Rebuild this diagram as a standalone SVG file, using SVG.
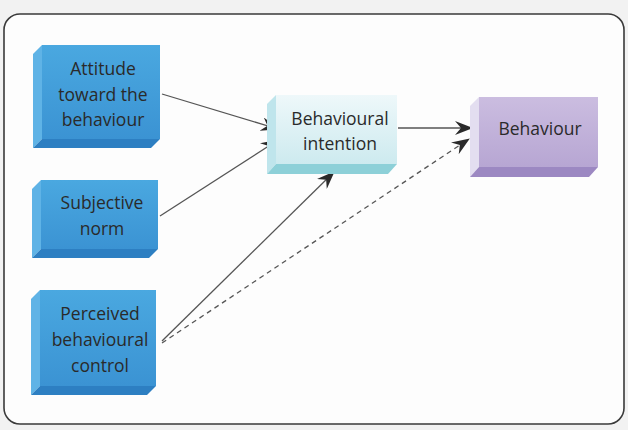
<svg xmlns="http://www.w3.org/2000/svg" width="628" height="430" viewBox="0 0 628 430">
<defs>
<style>
text{font-family:"Open Sans","Noto Sans","Liberation Sans",sans-serif;font-size:17.5px;fill:#2a2a2a;text-anchor:middle}
.conn{stroke:#555;stroke-width:1.3;fill:none}
.dash{stroke-dasharray:5 4}
</style>
<marker id="ah" viewBox="0 0 18 14" refX="17" refY="7" markerWidth="18" markerHeight="14" markerUnits="userSpaceOnUse" orient="auto">
<path d="M0,0 L18,7 L0,14 L6,7 Z" fill="#2a2a2a"/>
</marker>
<linearGradient id="gb" x1="0" y1="0" x2="0" y2="1">
<stop offset="0" stop-color="#4aa8e0"/><stop offset="1" stop-color="#3b93d3"/>
</linearGradient>
<linearGradient id="gt" x1="0" y1="0" x2="0" y2="1">
<stop offset="0" stop-color="#eef8fa"/><stop offset="1" stop-color="#cdeaef"/>
</linearGradient>
<linearGradient id="gp" x1="0" y1="0" x2="0" y2="1">
<stop offset="0" stop-color="#cbbde0"/><stop offset="1" stop-color="#b7a6d3"/>
</linearGradient>
</defs>
<rect width="628" height="430" fill="#f2f2f2"/>
<rect x="4" y="14" width="620" height="410" rx="16" fill="#fdfdfd" stroke="#3a3a3a" stroke-width="1.6"/>

<g id="connectors">
<line class="conn" x1="162" y1="94" x2="278" y2="129" marker-end="url(#ah)"/>
<line class="conn" x1="160" y1="216" x2="278" y2="140" marker-end="url(#ah)"/>
<line class="conn" x1="162" y1="341" x2="334" y2="172" marker-end="url(#ah)"/>
<line class="conn dash" x1="162" y1="343" x2="469" y2="139" marker-end="url(#ah)"/>
<line class="conn" x1="398" y1="128" x2="472" y2="128" marker-end="url(#ah)"/>
</g>

<g id="attitude">
<polygon points="33,54 42,45 42,139 33,148" fill="#5fb3e6"/>
<polygon points="33,148 42,139 160,139 151,148" fill="#2d7fc2"/>
<rect x="42" y="45" width="118" height="94" fill="url(#gb)"/>
<text x="103" y="75">Attitude</text>
<text x="103" y="101">toward the</text>
<text x="103" y="126">behaviour</text>
</g>

<g id="subjective">
<polygon points="32,189 41,180 41,249 32,258" fill="#5fb3e6"/>
<polygon points="32,258 41,249 158,249 149,258" fill="#2d7fc2"/>
<rect x="41" y="180" width="117" height="69" fill="url(#gb)"/>
<text x="102" y="209">Subjective</text>
<text x="102" y="235">norm</text>
</g>

<g id="perceived">
<polygon points="31,299 40,290 40,386 31,395" fill="#5fb3e6"/>
<polygon points="31,395 40,386 156,386 147,395" fill="#2d7fc2"/>
<rect x="40" y="290" width="116" height="96" fill="url(#gb)"/>
<text x="100" y="320">Perceived</text>
<text x="100" y="346">behavioural</text>
<text x="100" y="372">control</text>
</g>

<g id="intention">
<polygon points="267,104 276,95 276,164 267,174" fill="#bfe5ec"/>
<polygon points="267,174 276,164 397,164 388,174" fill="#8dd0d8"/>
<rect x="276" y="95" width="121" height="69" fill="url(#gt)"/>
<text x="340" y="125">Behavioural</text>
<text x="340" y="150">intention</text>
</g>

<g id="behaviour">
<polygon points="470,106 479,97 479,167 470,177" fill="#e3def0"/>
<polygon points="470,177 479,167 598,167 589,177" fill="#9c88c2"/>
<rect x="479" y="97" width="119" height="70" fill="url(#gp)"/>
<text x="540" y="135">Behaviour</text>
</g>
</svg>
